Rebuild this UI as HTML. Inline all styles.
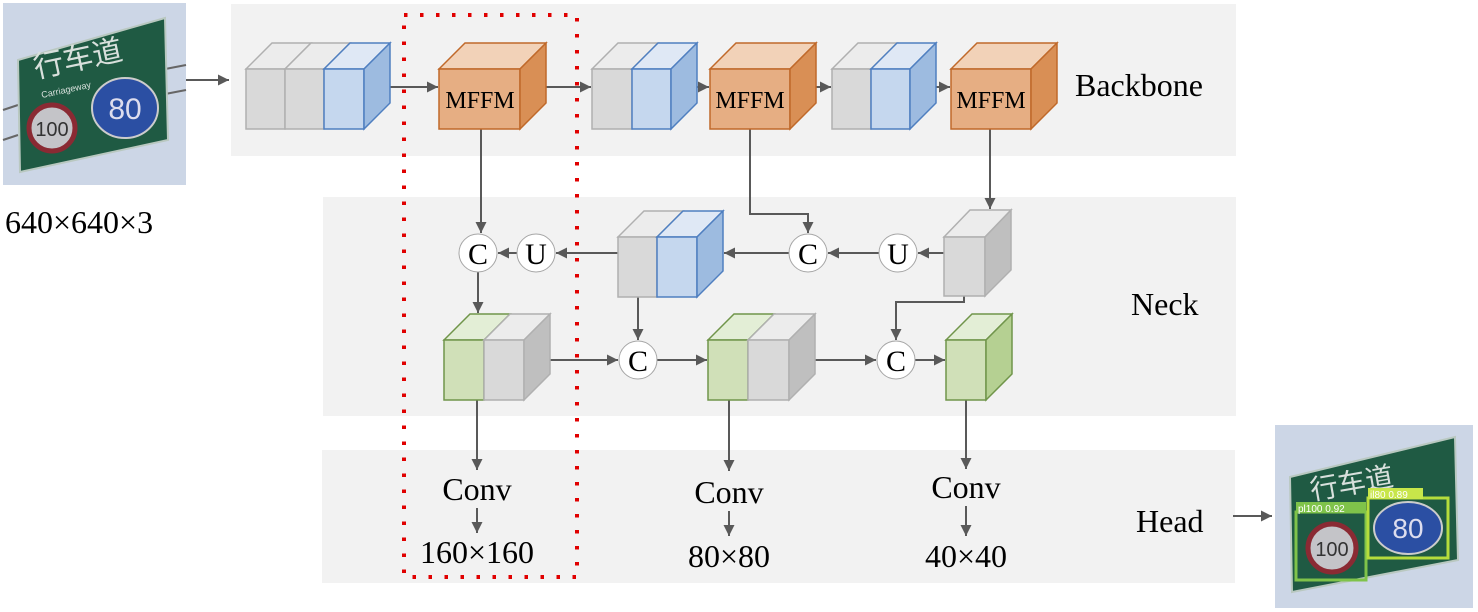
<!DOCTYPE html>
<html><head><meta charset="utf-8"><style>
html,body{margin:0;padding:0;background:#fff;}
svg{display:block;}
text{font-family:"Liberation Serif",serif;fill:#000;}
</style></head><body>
<svg width="1478" height="612" viewBox="0 0 1478 612" xmlns="http://www.w3.org/2000/svg">
<defs>
<marker id="a" markerWidth="12" markerHeight="12" refX="11" refY="6" orient="auto" markerUnits="userSpaceOnUse">
<path d="M0,0.5 L11,6 L0,11.5 z" fill="#595959"/></marker>
</defs>
<!-- panels -->
<rect x="231" y="4" width="1005" height="152" fill="#f2f2f2"/>
<rect x="323" y="197" width="913" height="219" fill="#f2f2f2"/>
<rect x="322" y="450" width="913" height="133" fill="#f2f2f2"/>

<!-- input image -->
<rect x="3" y="3" width="183" height="182" fill="#ccd6e6"/>
<g stroke="#666" stroke-width="2"><line x1="160" y1="70" x2="186" y2="65"/><line x1="160" y1="95" x2="186" y2="90"/><line x1="3" y1="110" x2="18" y2="105"/><line x1="3" y1="140" x2="18" y2="135"/></g>
<polygon points="18,60 165,18 168,140 20,172" fill="#1f5a43" stroke="#b9c8c0" stroke-width="2"/>
<text x="36" y="78" font-size="30" style="font-family:'Noto Sans CJK SC',sans-serif;fill:#d8e0dc" transform="rotate(-12 36 78)">行车道</text>
<text x="42" y="98" font-size="9" style="font-family:'Liberation Sans',sans-serif;fill:#d8e0dc" transform="rotate(-12 42 98)">Carriageway</text>
<circle cx="52" cy="128" r="23" fill="#c4c4c8" stroke="#8a2a33" stroke-width="5"/>
<text x="52" y="136" font-size="20" text-anchor="middle" style="font-family:'Liberation Sans',sans-serif;fill:#333">100</text>
<ellipse cx="125" cy="108" rx="33" ry="30" fill="#2b4fa3" stroke="#ccc" stroke-width="2"/>
<text x="125" y="119" font-size="30" text-anchor="middle" style="font-family:'Liberation Sans',sans-serif;fill:#dde">80</text>

<!-- output image -->
<rect x="1275" y="425" width="198" height="183" fill="#ccd6e6"/>
<polygon points="1290,477 1455,437 1458,560 1292,592" fill="#1f5a43" stroke="#b9c8c0" stroke-width="2"/>
<text x="1312" y="500" font-size="28" style="font-family:'Noto Sans CJK SC',sans-serif;fill:#d8e0dc" transform="rotate(-10 1312 500)">行车道</text>
<rect x="1296" y="512" width="70" height="68" fill="none" stroke="#7fc34a" stroke-width="3"/>
<rect x="1296" y="502" width="70" height="11" fill="#7fc34a"/>
<text x="1298" y="512" font-size="10" style="font-family:'Liberation Sans',sans-serif;fill:#fff">pl100 0.92</text>
<circle cx="1332" cy="548" r="24" fill="#c4c4c8" stroke="#8a2a33" stroke-width="5"/>
<text x="1332" y="556" font-size="20" text-anchor="middle" style="font-family:'Liberation Sans',sans-serif;fill:#333">100</text>
<rect x="1368" y="498" width="80" height="60" fill="none" stroke="#b5dc3c" stroke-width="3"/>
<rect x="1368" y="488" width="55" height="11" fill="#c8e64a"/>
<text x="1370" y="498" font-size="10" style="font-family:'Liberation Sans',sans-serif;fill:#fff">il80 0.89</text>
<ellipse cx="1408" cy="528" rx="34" ry="26" fill="#2b4fa3" stroke="#ccc" stroke-width="2"/>
<text x="1408" y="538" font-size="28" text-anchor="middle" style="font-family:'Liberation Sans',sans-serif;fill:#dde">80</text>

<!-- arrows/lines -->
<g stroke="#595959" stroke-width="2" fill="none">
<line x1="186" y1="80" x2="229" y2="80" marker-end="url(#a)"/>
<line x1="390" y1="87" x2="438" y2="87" marker-end="url(#a)"/>
<line x1="545" y1="87" x2="591" y2="87" marker-end="url(#a)"/>
<line x1="697" y1="87" x2="709" y2="87" marker-end="url(#a)"/>
<line x1="816" y1="87" x2="831" y2="87" marker-end="url(#a)"/>
<line x1="936" y1="87" x2="950" y2="87" marker-end="url(#a)"/>
<line x1="481" y1="129" x2="481" y2="233" marker-end="url(#a)"/>
<polyline points="750,129 750,214 808,214 808,233" marker-end="url(#a)"/>
<line x1="990" y1="129" x2="990" y2="209" marker-end="url(#a)"/>
<line x1="944" y1="253" x2="918" y2="253" marker-end="url(#a)"/>
<line x1="879" y1="253" x2="828" y2="253" marker-end="url(#a)"/>
<line x1="789" y1="253" x2="724" y2="253" marker-end="url(#a)"/>
<line x1="618" y1="253" x2="556" y2="253" marker-end="url(#a)"/>
<line x1="517" y1="253" x2="498" y2="253" marker-end="url(#a)"/>
<line x1="478" y1="272" x2="478" y2="313" marker-end="url(#a)"/>
<line x1="638" y1="297" x2="638" y2="340" marker-end="url(#a)"/>
<polyline points="964,296 964,302 896,302 896,340" marker-end="url(#a)"/>
<line x1="550" y1="360" x2="618" y2="360" marker-end="url(#a)"/>
<line x1="657" y1="360" x2="707" y2="360" marker-end="url(#a)"/>
<line x1="814" y1="360" x2="876" y2="360" marker-end="url(#a)"/>
<line x1="915" y1="360" x2="945" y2="360" marker-end="url(#a)"/>
<line x1="477" y1="400" x2="477" y2="470" marker-end="url(#a)"/>
<line x1="729" y1="400" x2="729" y2="471" marker-end="url(#a)"/>
<line x1="966" y1="400" x2="966" y2="469" marker-end="url(#a)"/>
<line x1="477" y1="508" x2="477" y2="533" marker-end="url(#a)"/>
<line x1="729" y1="511" x2="729" y2="536" marker-end="url(#a)"/>
<line x1="966" y1="506" x2="966" y2="536" marker-end="url(#a)"/>
<line x1="1233" y1="516" x2="1272" y2="516" marker-end="url(#a)"/>
</g>

<!-- cubes -->
<g stroke-width="1.5">
<g stroke="#b0b0b0"><polygon points="246,69 272,43 311,43 285,69" fill="#ececec"/><rect x="246" y="69" width="39" height="60" fill="#d9d9d9"/>
<polygon points="285,69 311,43 350,43 324,69" fill="#ececec"/><rect x="285" y="69" width="39" height="60" fill="#d9d9d9"/></g>
<g stroke="#4f7fc0"><polygon points="324,69 350,43 390,43 364,69" fill="#dfe8f5"/><rect x="324" y="69" width="40" height="60" fill="#c5d7ee"/><polygon points="364,69 390,43 390,103 364,129" fill="#9dbbe0"/></g>
<g stroke="#c0692a"><polygon points="439,69 465,43 546,43 520,69" fill="#f2d2b8"/><rect x="439" y="69" width="81" height="60" fill="#e6ae83"/><polygon points="520,69 546,43 546,103 520,129" fill="#d98f55"/></g>
<g stroke="#b0b0b0"><polygon points="592,69 618,43 658,43 632,69" fill="#ececec"/><rect x="592" y="69" width="40" height="60" fill="#d9d9d9"/></g>
<g stroke="#4f7fc0"><polygon points="632,69 658,43 697,43 671,69" fill="#dfe8f5"/><rect x="632" y="69" width="39" height="60" fill="#c5d7ee"/><polygon points="671,69 697,43 697,103 671,129" fill="#9dbbe0"/></g>
<g stroke="#c0692a"><polygon points="710,69 736,43 816,43 790,69" fill="#f2d2b8"/><rect x="710" y="69" width="80" height="60" fill="#e6ae83"/><polygon points="790,69 816,43 816,103 790,129" fill="#d98f55"/></g>
<g stroke="#b0b0b0"><polygon points="832,69 858,43 897,43 871,69" fill="#ececec"/><rect x="832" y="69" width="39" height="60" fill="#d9d9d9"/></g>
<g stroke="#4f7fc0"><polygon points="871,69 897,43 936,43 910,69" fill="#dfe8f5"/><rect x="871" y="69" width="39" height="60" fill="#c5d7ee"/><polygon points="910,69 936,43 936,103 910,129" fill="#9dbbe0"/></g>
<g stroke="#c0692a"><polygon points="951,69 977,43 1057,43 1031,69" fill="#f2d2b8"/><rect x="951" y="69" width="80" height="60" fill="#e6ae83"/><polygon points="1031,69 1057,43 1057,103 1031,129" fill="#d98f55"/></g>

<g stroke="#b0b0b0"><polygon points="618,237 644,211 683,211 657,237" fill="#ececec"/><rect x="618" y="237" width="39" height="60" fill="#d9d9d9"/></g>
<g stroke="#4f7fc0"><polygon points="657,237 683,211 723,211 697,237" fill="#dfe8f5"/><rect x="657" y="237" width="40" height="60" fill="#c5d7ee"/><polygon points="697,237 723,211 723,271 697,297" fill="#9dbbe0"/></g>
<g stroke="#b0b0b0"><polygon points="944,237 970,210 1011,210 985,237" fill="#ececec"/><rect x="944" y="237" width="41" height="59" fill="#d9d9d9"/><polygon points="985,237 1011,210 1011,270 985,296" fill="#bfbfbf"/></g>

<g stroke="#70954a"><polygon points="444,340 470,314 510,314 484,340" fill="#e3eed6"/><rect x="444" y="340" width="40" height="60" fill="#d0e0b8"/></g>
<g stroke="#b0b0b0"><polygon points="484,340 510,314 550,314 524,340" fill="#ececec"/><rect x="484" y="340" width="40" height="60" fill="#d9d9d9"/><polygon points="524,340 550,314 550,374 524,400" fill="#bfbfbf"/></g>
<g stroke="#70954a"><polygon points="708,340 734,314 774,314 748,340" fill="#e3eed6"/><rect x="708" y="340" width="40" height="60" fill="#d0e0b8"/></g>
<g stroke="#b0b0b0"><polygon points="748,340 774,314 815,314 789,340" fill="#ececec"/><rect x="748" y="340" width="41" height="60" fill="#d9d9d9"/><polygon points="789,340 815,314 815,374 789,400" fill="#bfbfbf"/></g>
<g stroke="#70954a"><polygon points="946,340 972,314 1012,314 986,340" fill="#e3eed6"/><rect x="946" y="340" width="40" height="60" fill="#d0e0b8"/><polygon points="986,340 1012,314 1012,374 986,400" fill="#b5d092"/></g>
</g>

<g fill="#fff" stroke="#a6a6a6" stroke-width="1">
<circle cx="478" cy="253" r="19"/><circle cx="536" cy="253" r="19"/>
<circle cx="808" cy="253" r="19"/><circle cx="898" cy="253" r="19"/>
<circle cx="638" cy="360" r="19"/><circle cx="896" cy="360" r="19"/>
</g>
<g font-size="30" text-anchor="middle">
<text x="478" y="264">C</text><text x="536" y="264">U</text>
<text x="808" y="264">C</text><text x="898" y="264">U</text>
<text x="638" y="371">C</text><text x="896" y="371">C</text>
</g>

<g font-size="24" text-anchor="middle">
<text x="480" y="108">MFFM</text><text x="750" y="108">MFFM</text><text x="991" y="108">MFFM</text>
</g>
<text x="1075" y="96" font-size="32">Backbone</text>
<text x="1131" y="315" font-size="32">Neck</text>
<text x="1136" y="532" font-size="32">Head</text>
<text x="5" y="233" font-size="32">640×640×3</text>
<g font-size="32" text-anchor="middle">
<text x="477" y="500">Conv</text><text x="477" y="563">160×160</text>
<text x="729" y="503">Conv</text><text x="729" y="567">80×80</text>
<text x="966" y="498">Conv</text><text x="966" y="567">40×40</text>
</g>

<rect x="404" y="15" width="173" height="562" fill="none" stroke="#e00000" stroke-width="4" stroke-dasharray="3.5 12.5"/>
</svg>
</body></html>
